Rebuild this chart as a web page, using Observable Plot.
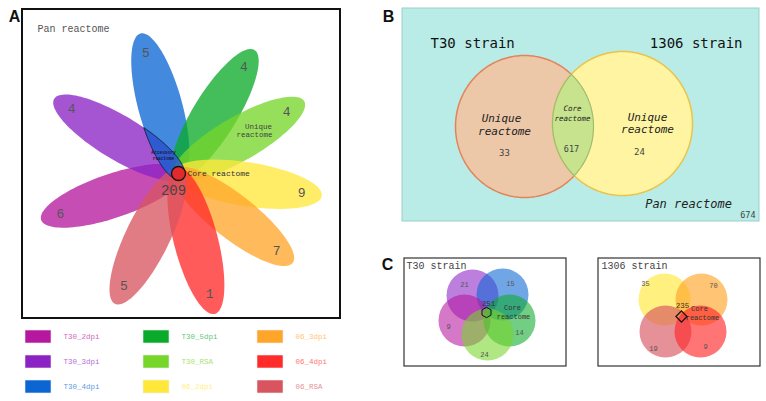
<!DOCTYPE html>
<html><head><meta charset="utf-8">
<script src="https://cdn.jsdelivr.net/npm/d3@7"></script>
<script src="https://cdn.jsdelivr.net/npm/@observablehq/plot@0.6"></script>
<style>body{margin:0;background:#fff} svg{display:block}</style>
</head><body><div id="chart"></div>
<script>
// ---------- DATA ----------
const flowerSets = ["T30_2dpi","T30_3dpi","T30_4dpi","T30_5dpi","T30_RSA","06_2dpi","06_3dpi","06_4dpi","06_RSA"];
const flowerUnique = [6,4,5,4,4,9,7,1,5];
const flowerCore = 209;
const strainNames = ["T30 strain","1306 strain"];
const strainUnique = [33,24];
const strainCore = 617;
const panTotal = 674;
const t30Sets = ["T30_3dpi","T30_4dpi","T30_2dpi","T30_5dpi","T30_RSA"];
const t30Unique = [21,15,9,14,24];
const t30Core = 251;
const s1306Sets = ["06_2dpi","06_3dpi","06_RSA","06_4dpi"];
const s1306Unique = [35,70,19,9];
const s1306Core = 235;

// ---------- STYLE / LAYOUT ----------
const setColors = {T30_2dpi:"#b5179e", T30_3dpi:"#8b22c4", T30_4dpi:"#0b66d4", T30_5dpi:"#0aaa2a",
  T30_RSA:"#77d62a", "06_2dpi":"#ffe83a", "06_3dpi":"#ffa52a", "06_4dpi":"#ff2a2a", "06_RSA":"#d85560"};
const W = 766, H = 401;
const mono = "Liberation Mono, Courier New, monospace";
const mono2 = "DejaVu Sans Mono, monospace";
const sans = "Liberation Sans, Arial, sans-serif";
const flowerLayout = {cx:178, cy:173, len:145, back:6, b:22, coreR:7, labelFrac:0.86,
  angles:[161.3,-149,-105.2,-58.4,-29.9,8.9,38.1,75.5,116]};
const legendLayout = {cols:[25,143,257], rows:[330,355,380], w:26, h:13, gap:38};
const vennB = {left:{cx:524, cy:126, rx:69, ry:71}, right:{cx:622, cy:123, rx:70, ry:72}};
const vennC = {r:26,
  left:[[472,295],[502,294],[464,320],[509,320],[487,334]],
  leftLab:[[464,284],[510,283],[448,326],[519,332],[484,354]],
  right:[[664,299],[701,299],[665,331],[700,331]],
  rightLab:[[645,283],[713,285],[653,348],[705,346]]};

// ---------- GEOMETRY HELPERS ----------
function ellipse(cx, cy, a, b, thetaDeg) {
  const t = thetaDeg * Math.PI / 180;
  return {cx, cy, a, b, c: Math.cos(t), s: Math.sin(t)};
}
function ellipsePts(e, key, n = 120) {
  return d3.range(n + 1).map(i => {
    const t = 2 * Math.PI * i / n, u = e.a * Math.cos(t), v = e.b * Math.sin(t);
    return {x: e.cx + u * e.c - v * e.s, y: e.cy + u * e.s + v * e.c, key};
  });
}
function inside(p, e) {
  const dx = p.x - e.cx, dy = p.y - e.cy;
  const u = dx * e.c + dy * e.s, v = -dx * e.s + dy * e.c;
  return (u / e.a) ** 2 + (v / e.b) ** 2 <= 1.0001;
}
function intersection(e1, e2) {
  const pts = ellipsePts(e1, "i", 720).filter(p => inside(p, e2))
    .concat(ellipsePts(e2, "i", 720).filter(p => inside(p, e1)));
  const mx = d3.mean(pts, p => p.x), my = d3.mean(pts, p => p.y);
  pts.sort((a, b) => Math.atan2(a.y - my, a.x - mx) - Math.atan2(b.y - my, b.x - mx));
  pts.push(pts[0]);
  return pts;
}

// ---------- PANEL A: flower ----------
const FL = flowerLayout;
const petals = flowerSets.map((s, i) => {
  const ang = FL.angles[i], t = ang * Math.PI / 180;
  const dx = Math.cos(t), dy = Math.sin(t);
  const a = (FL.len + FL.back) / 2, off = (FL.len - FL.back) / 2;
  const e = ellipse(FL.cx + dx * off, FL.cy + dy * off, a, FL.b, ang);
  return {set: s, value: flowerUnique[i], e, color: setColors[s],
    lx: FL.cx + dx * FL.len * FL.labelFrac, ly: FL.cy + dy * FL.len * FL.labelFrac};
});
const accessory = intersection(petals[2].e, petals[1].e);

const marks = [];
marks.push(Plot.rect([0], {x1: 22, x2: 340, y1: 9, y2: 318, fill: "white", stroke: "#111", strokeWidth: 2}));
for (const p of petals) {
  marks.push(Plot.line(ellipsePts(p.e, p.set), {x: "x", y: "y", fill: p.color, fillOpacity: 0.77, stroke: "none"}));
}
marks.push(Plot.line(accessory, {x: "x", y: "y", fill: "#2f5bd0", fillOpacity: 0.85, stroke: "#111", strokeWidth: 0.8}));
marks.push(Plot.text(["Accessory", "reactome"], {x: 163, y: (d, i) => 152 + i * 6, text: d => d,
  fontSize: 4.5, fontWeight: "bold", fill: "#1a1a40", fontFamily: mono}));
marks.push(Plot.dot([0], {x: FL.cx, y: FL.cy, r: FL.coreR, fill: "#e22a2a", stroke: "#111", strokeWidth: 1.3}));
marks.push(Plot.text(petals, {x: "lx", y: "ly", text: "value", fontSize: 13, fill: "#555", fontFamily: mono}));
marks.push(Plot.text([flowerCore], {x: 173, y: 190, text: d => String(d), fontSize: 14, fill: "#444", fontFamily: mono}));
marks.push(Plot.text(["Core reactome"], {x: 187, y: 173, text: d => d, textAnchor: "start", fontSize: 8, fill: "#333", fontFamily: mono}));
marks.push(Plot.text(["Unique", "reactome"], {x: (d, i) => i ? 254 : 258, y: (d, i) => 126 + i * 8.5, text: d => d, fontSize: 7.5, fill: "#444", fontFamily: mono}));
marks.push(Plot.text(["Pan reactome"], {x: 37, y: 28, text: d => d, textAnchor: "start", fontSize: 10, fill: "#555", fontFamily: mono}));
marks.push(Plot.text(["A"], {x: 14, y: 16, text: d => d, fontSize: 16, fontWeight: "bold", fill: "#111", fontFamily: sans}));

// legend
const LG = legendLayout;
const legend = flowerSets.map((s, i) => ({set: s, color: setColors[s],
  text: d3.interpolateRgb(setColors[s], "white")(0.35),
  x: LG.cols[Math.floor(i / 3)], y: LG.rows[i % 3]}));
marks.push(Plot.rect(legend, {x1: "x", x2: d => d.x + LG.w, y1: "y", y2: d => d.y + LG.h, fill: "color", stroke: "#eee", strokeWidth: 0.6}));
marks.push(Plot.text(legend, {x: d => d.x + LG.gap, y: d => d.y + LG.h / 2, text: "set", fill: "text", textAnchor: "start", fontSize: 7.5, fontFamily: mono}));

// ---------- PANEL B ----------
marks.push(Plot.rect([0], {x1: 402, x2: 759, y1: 8, y2: 221, fill: "#b9ece7", stroke: "#9acfca", strokeWidth: 1}));
const eL = ellipse(vennB.left.cx, vennB.left.cy, vennB.left.rx, vennB.left.ry, 0);
const eR = ellipse(vennB.right.cx, vennB.right.cy, vennB.right.rx, vennB.right.ry, 0);
marks.push(Plot.line(ellipsePts(eL, "L", 240), {x: "x", y: "y", fill: "#ecc7a8", stroke: "#e0845a", strokeWidth: 1.5}));
marks.push(Plot.line(ellipsePts(eR, "R", 240), {x: "x", y: "y", fill: "#fff4a2", stroke: "#eac34a", strokeWidth: 1.5}));
marks.push(Plot.line(intersection(eL, eR), {x: "x", y: "y", fill: "#c7e38e", stroke: "#9fbd6e", strokeWidth: 1.2}));
marks.push(Plot.text([strainNames[0]], {x: 430, y: 43, text: d => d, textAnchor: "start", fontSize: 14, fill: "#111", fontFamily: mono2}));
marks.push(Plot.text([strainNames[1]], {x: 742, y: 43, text: d => d, textAnchor: "end", fontSize: 14, fill: "#111", fontFamily: mono2}));
marks.push(Plot.text(["Unique", "reactome", "Unique", "reactome"], {x: (d, i) => [501, 504, 647, 647][i], y: (d, i) => [118, 131, 117, 129][i], text: d => d, fontSize: 11, fontStyle: "italic", fill: "#222", fontFamily: mono2}));
marks.push(Plot.text(strainUnique, {x: (d, i) => i ? 639 : 504, y: (d, i) => i ? 152 : 153, text: d => String(d), fontSize: 9, fill: "#444", fontFamily: mono2}));
marks.push(Plot.text(["Core", "reactome"], {x: 572, y: (d, i) => 108 + i * 10, text: d => d, fontSize: 7.5, fontStyle: "italic", fill: "#222", fontFamily: mono2}));
marks.push(Plot.text([strainCore], {x: 571, y: 149, text: d => String(d), fontSize: 8.5, fill: "#444", fontFamily: mono2}));
marks.push(Plot.text(["Pan reactome"], {x: 688, y: 204, text: d => d, fontSize: 12, fontStyle: "italic", fill: "#222", fontFamily: mono2}));
marks.push(Plot.text([panTotal], {x: 755, y: 215, text: d => String(d), textAnchor: "end", fontSize: 8.5, fill: "#444", fontFamily: mono2}));
marks.push(Plot.text(["B"], {x: 388, y: 16, text: d => d, fontSize: 16, fontWeight: "bold", fill: "#111", fontFamily: sans}));

// ---------- PANEL C ----------
marks.push(Plot.text(["C"], {x: 387, y: 264, text: d => d, fontSize: 16, fontWeight: "bold", fill: "#111", fontFamily: sans}));
marks.push(Plot.rect([404, 598], {x1: d => d, x2: d => d + 162, y1: 258, y2: 366, fill: "white", stroke: "#333", strokeWidth: 1.2}));
const cLeft = t30Sets.map((s, i) => ({set: s, v: t30Unique[i], x: vennC.left[i][0], y: vennC.left[i][1],
  lx: vennC.leftLab[i][0], ly: vennC.leftLab[i][1], color: setColors[s]}));
const cRight = s1306Sets.map((s, i) => ({set: s, v: s1306Unique[i], x: vennC.right[i][0], y: vennC.right[i][1],
  lx: vennC.rightLab[i][0], ly: vennC.rightLab[i][1], color: setColors[s]}));
marks.push(Plot.dot(cLeft, {x: "x", y: "y", r: vennC.r, fill: "color", fillOpacity: 0.58, stroke: "none"}));
marks.push(Plot.dot(cRight, {x: "x", y: "y", r: vennC.r, fill: "color", fillOpacity: 0.65, stroke: "none"}));
marks.push(Plot.text(cLeft.concat(cRight), {x: "lx", y: "ly", text: "v", fontSize: 7, fill: "#555", fontFamily: mono}));
marks.push(Plot.text([t30Core, s1306Core], {x: (d, i) => i ? 682 : 488, y: (d, i) => i ? 305 : 303, text: d => String(d), fontSize: 7.5, fill: "#333", fontFamily: mono}));
marks.push(Plot.text(["Core", "reactome", "Core", "reactome"], {x: (d, i) => [512, 513, 699, 702][i], y: (d, i) => [307, 316, 308, 317][i], text: d => d, fontSize: 7, fill: "#333", fontFamily: mono}));
marks.push(Plot.dot([0], {x: 486, y: 312, r: 4.5, symbol: "hexagon", fill: "none", stroke: "#111", strokeWidth: 1}));
marks.push(Plot.dot([0], {x: 681, y: 316, r: 5, symbol: "diamond2", fill: "none", stroke: "#111", strokeWidth: 1.2}));
marks.push(Plot.text(strainNames, {x: (d, i) => i ? 601 : 406, y: 265, text: d => d, textAnchor: "start", fontSize: 10, fill: "#444", fontFamily: mono}));

const chart = Plot.plot({
  width: W, height: H, margin: 0,
  x: {domain: [0, W], range: [0, W], axis: null},
  y: {domain: [0, H], range: [0, H], axis: null},
  color: {type: "identity"},
  style: {background: "white"},
  marks
});
document.getElementById("chart").appendChild(chart);
</script>
</body></html>
